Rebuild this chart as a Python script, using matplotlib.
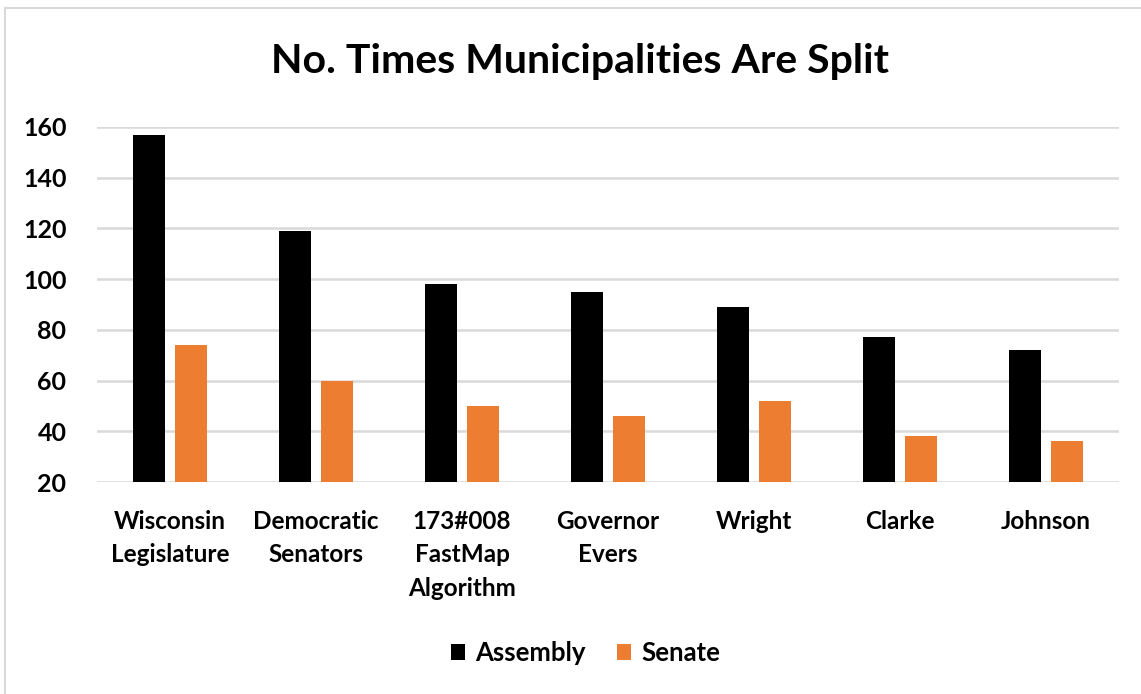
import matplotlib
matplotlib.use("Agg")
import matplotlib.pyplot as plt
import numpy as np
from matplotlib.patches import Rectangle

categories = ["Wisconsin\nLegislature", "Democratic\nSenators", "173#008\nFastMap\nAlgorithm",
              "Governor\nEvers", "Wright", "Clarke", "Johnson"]
assembly = [157, 119, 98, 95, 89, 77, 72]
senate = [74, 60, 50, 46, 52, 38, 36]
yticks = [20, 40, 60, 80, 100, 120, 140, 160]

plt.rcParams['font.family'] = ['Lato', 'DejaVu Sans']
plt.rcParams['font.weight'] = 'bold'

fig = plt.figure(figsize=(11.41, 6.94), dpi=100)
ax = fig.add_axes([97 / 1141, (694 - 482) / 694, (1119 - 97) / 1141, (482 - 127) / 694])

x = np.arange(len(categories))
w = 0.223
off = 0.144
ax.bar(x - off, np.array(assembly) - 20, w, bottom=20, color='black', label='Assembly', zorder=3)
ax.bar(x + off, np.array(senate) - 20, w, bottom=20, color='#ED7D31', label='Senate', zorder=3)

ax.set_xlim(-0.5, len(categories) - 0.5)
ax.set_ylim(20, 160)
ax.set_yticks(yticks)
ax.grid(axis='y', color='#D9D9D9', linewidth=1.8, zorder=0)
for s in ax.spines.values():
    s.set_visible(False)
ax.tick_params(axis='y', length=0, labelsize=18, colors='black', pad=22)
ax.tick_params(axis='x', length=0, labelsize=17.5, colors='black', pad=20)
ax.set_xticks(x)
ax.set_xticklabels(categories, fontweight='bold', linespacing=1.55, va='top')
for lab in ax.get_yticklabels():
    lab.set_fontweight('bold')

fig.text(0.508, 1 - 62 / 694, "No. Times Municipalities Are Split", ha='center', va='center',
         fontsize=29.5, fontweight='bold')

leg = fig.legend(loc='center', bbox_to_anchor=(0.513, 1 - 653 / 694), ncol=2, frameon=False,
                 fontsize=18.5, handlelength=0.55, handleheight=0.55, handletextpad=0.4,
                 columnspacing=1.2)

fig.patches.append(Rectangle((4.5 / 1141, -0.01), 1.02, (694 - 8) / 694 + 0.01,
                             transform=fig.transFigure, fill=False, edgecolor='#D9D9D9',
                             linewidth=1.5))

fig.savefig("out.png", dpi=100)
